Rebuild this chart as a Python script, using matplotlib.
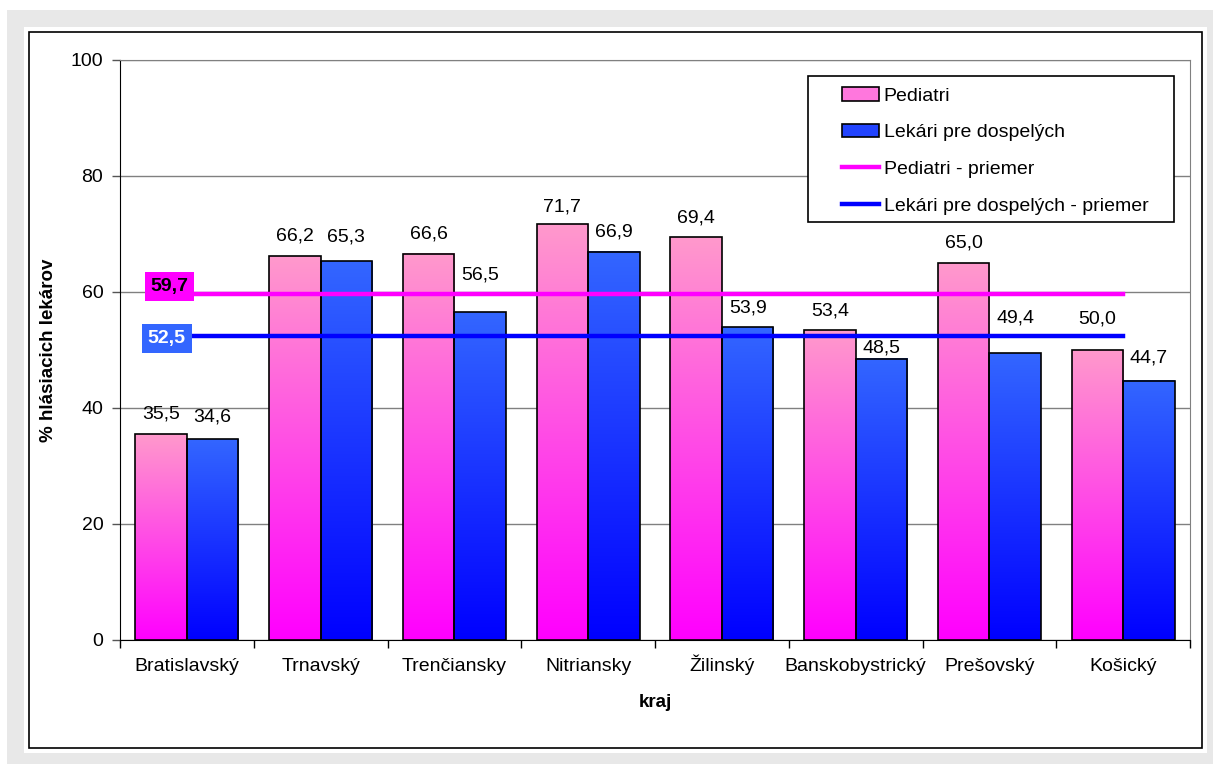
import numpy as np
import matplotlib
matplotlib.use('Agg')
from matplotlib import pyplot as plt
from matplotlib.patches import Rectangle, Patch
from matplotlib.lines import Line2D

plt.rcParams['font.family'] = ['Liberation Sans', 'DejaVu Sans']

########
# DATA #
########

regions = ['Bratislavský', 'Trnavský', 'Trenčiansky', 'Nitriansky', 'Žilinský',
           'Banskobystrický', 'Prešovský', 'Košický']
pediatri = [35.5, 66.2, 66.6, 71.7, 69.4, 53.4, 65.0, 50.0]
lekari = [34.6, 65.3, 56.5, 66.9, 53.9, 48.5, 49.4, 44.7]
pediatri_avg = 59.7
lekari_avg = 52.5

series_names = ['Pediatri', 'Lekári pre dospelých']
avg_names = ['Pediatri - priemer', 'Lekári pre dospelých - priemer']

# label lift above bar top (points); a few were moved by hand off the mean lines
ped_lift = [8, 8, 8, 6, 8, 8, 8, 16]
lek_lift = [10, 11.5, 21, 8, 8, 1.5, 19.5, 10]

def fmt(v):
    return ('%.1f' % v).replace('.', ',')

W, H = 1213, 764
fig = plt.figure(figsize=(W / 100, H / 100), dpi=100)
fig.patch.set_facecolor('white')

# frame: gray band, white card, black border, in pixel coords on a background axes
bg = fig.add_axes([0, 0, 1, 1], zorder=-10)
bg.set_xlim(0, W)
bg.set_ylim(H, 0)
bg.axis('off')
bg.add_patch(Rectangle((7, 10), W - 7, H - 10, facecolor='#e8e8e8', edgecolor='none'))
bg.add_patch(Rectangle((24, 27), 1207 - 24, 753 - 27, facecolor='white', edgecolor='none'))
bg.add_patch(Rectangle((29, 32), 1202 - 29, 748 - 32, facecolor='none',
                       edgecolor='black', linewidth=1.2))

ax = fig.add_axes([120 / W, 1 - 640 / H, (1190 - 120) / W, (640 - 60) / H], zorder=1)
ax.set_facecolor('none')

x = np.arange(len(regions))
bw = 0.385

def grad_bars(xs, vals, top, bottom):
    top = np.array(matplotlib.colors.to_rgb(top))
    bottom = np.array(matplotlib.colors.to_rgb(bottom))
    t = np.linspace(0, 1, 256)[:, None]
    img = (bottom + (top - bottom) * t)[:, None, :]
    for xi, v in zip(xs, vals):
        ax.imshow(img, extent=(xi - bw / 2, xi + bw / 2, 0, v), origin='lower',
                  aspect='auto', zorder=2, interpolation='bilinear')

grad_bars(x - bw / 2, pediatri, '#ff99cc', '#ff00ff')
grad_bars(x + bw / 2, lekari, '#3366ff', '#0000ff')
ax.bar(x - bw / 2, pediatri, bw, fill=False, edgecolor='black', linewidth=1.2, zorder=3)
ax.bar(x + bw / 2, lekari, bw, fill=False, edgecolor='black', linewidth=1.2, zorder=3)

for xi, v, d in zip(x - bw / 2, pediatri, ped_lift):
    ax.annotate(fmt(v), (xi, v), xytext=(0, d), textcoords='offset points',
                ha='center', va='bottom', fontsize=14, zorder=6)
for xi, v, d in zip(x + bw / 2, lekari, lek_lift):
    ax.annotate(fmt(v), (xi, v), xytext=(0, d), textcoords='offset points',
                ha='center', va='bottom', fontsize=14, zorder=6)

# average lines
ax.plot([x[0], x[-1]], [pediatri_avg] * 2, color='#ff00ff', linewidth=3.2, zorder=4)
ax.plot([x[0], x[-1]], [lekari_avg] * 2, color='#0000ff', linewidth=3.2, zorder=4)
ax.annotate(fmt(pediatri_avg), (x[0] - 0.13, pediatri_avg), xytext=(0, 5),
            textcoords='offset points', ha='center', va='center',
            fontsize=14, fontweight='bold', color='black', zorder=5,
            bbox=dict(boxstyle='square,pad=0.3', facecolor='#ff00ff', edgecolor='none'))
ax.annotate(fmt(lekari_avg), (x[0] - 0.15, lekari_avg), xytext=(0, -2),
            textcoords='offset points', ha='center', va='center',
            fontsize=14, fontweight='bold', color='white', zorder=5,
            bbox=dict(boxstyle='square,pad=0.3', facecolor='#3366ff', edgecolor='none'))

ax.set_xlim(-0.5, len(regions) - 0.5)
ax.set_ylim(0, 100)
ax.set_yticks([0, 20, 40, 60, 80, 100])
ax.yaxis.grid(True, color='#808080', linewidth=1)
ax.set_axisbelow(True)
ax.set_xticks(x)
ax.set_xticklabels(regions, fontsize=14)
for lbl in ax.get_xticklabels():
    lbl.set_verticalalignment('baseline')
ax.set_xticks(np.arange(len(regions) + 1) - 0.5, minor=True)
ax.tick_params(axis='x', which='major', length=0, pad=22)
ax.tick_params(axis='x', which='minor', length=6, width=1, color='black', direction='out')
ax.tick_params(axis='y', labelsize=14, length=6, width=1, color='#555555', pad=6)
for s in ['top', 'right']:
    ax.spines[s].set_color('#808080')
ax.spines['left'].set_color('black')
ax.spines['bottom'].set_color('black')

ax.set_ylabel('% hlásiacich lekárov', fontsize=13.5, fontweight='bold', labelpad=10)
ax.set_xlabel('kraj', fontsize=13.5, fontweight='bold', labelpad=14)

# legend: white box with black frame, entries inside
ax.add_patch(Rectangle((0.643, 0.7207), 0.985 - 0.643, 0.9724 - 0.7207,
                       transform=ax.transAxes, facecolor='white', edgecolor='black',
                       linewidth=1.2, zorder=7))
handles = [Patch(facecolor='#ff77dd', edgecolor='black', linewidth=1.2),
           Patch(facecolor='#2244ff', edgecolor='black', linewidth=1.2),
           Line2D([], [], color='#ff00ff', linewidth=3.2),
           Line2D([], [], color='#0000ff', linewidth=3.2)]
leg = ax.legend(handles, series_names + avg_names, loc='upper left',
                bbox_to_anchor=((842 - 120) / 1070, 1 - (87 - 60) / 580),
                fontsize=14, frameon=False, borderpad=0, labelspacing=0.98,
                handlelength=1.9, handletextpad=0.25, handleheight=0.7,
                borderaxespad=0)
leg.set_zorder(8)

fig.savefig('out.png', dpi=100)
